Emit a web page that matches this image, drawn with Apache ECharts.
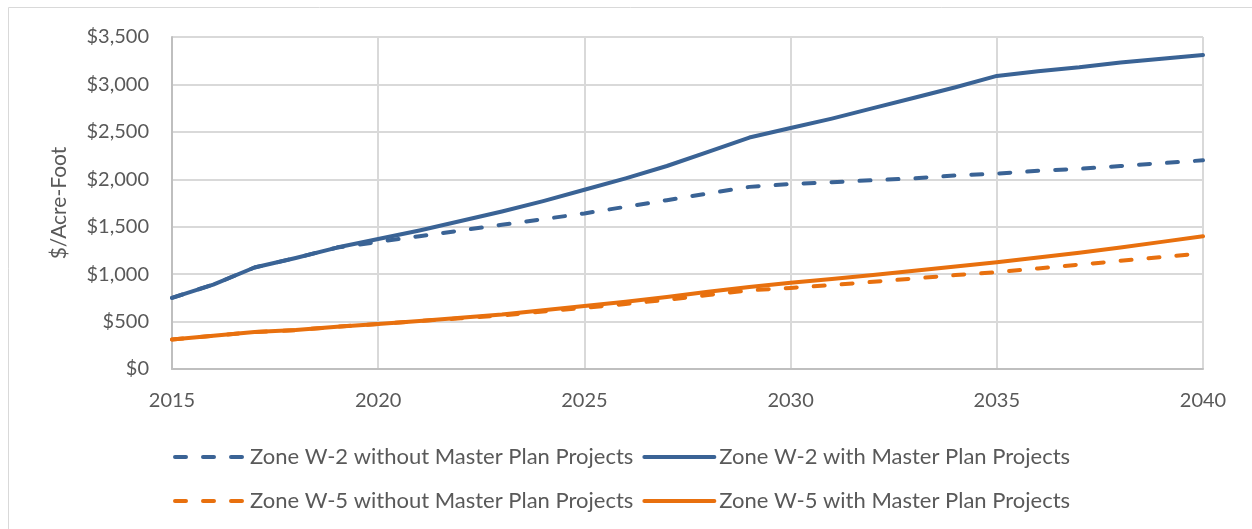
<!DOCTYPE html>
<html>
<head>
<meta charset="utf-8">
<script src="https://cdn.jsdelivr.net/npm/echarts@6/dist/echarts.min.js"></script>
<style>
  html, body { margin: 0; padding: 0; background: #fff; }
  #main { width: 1252px; height: 529px; }
</style>
</head>
<body>
<div id="main"></div>
<script>
// years on the x axis
var years = [2015, 2016, 2017, 2018, 2019, 2020, 2021, 2022, 2023, 2024, 2025, 2026, 2027,
  2028, 2029, 2030, 2031, 2032, 2033, 2034, 2035, 2036, 2037, 2038, 2039, 2040];

// $/acre-foot
var w2Without = [750, 890, 1070, 1170, 1280, 1340, 1400, 1460, 1520, 1580, 1640, 1710, 1780,
  1850, 1920, 1950, 1970, 1990, 2010, 2040, 2060, 2090, 2110, 2140, 2170, 2200];
var w2With = [750, 890, 1070, 1170, 1280, 1370, 1460, 1560, 1660, 1770, 1890, 2010, 2140,
  2290, 2440, 2540, 2640, 2750, 2860, 2970, 3090, 3140, 3180, 3230, 3270, 3310];
var w5Without = [310, 350, 390, 410, 445, 475, 505, 535, 565, 605, 645, 685, 730,
  780, 830, 855, 885, 920, 955, 990, 1020, 1060, 1100, 1140, 1180, 1220];
var w5With = [310, 350, 390, 410, 445, 475, 505, 540, 575, 620, 665, 710, 760,
  815, 865, 910, 950, 990, 1035, 1080, 1125, 1175, 1225, 1280, 1340, 1400];

var seriesNames = [
  "Zone W-2 without Master Plan Projects",
  "Zone W-2 with Master Plan Projects",
  "Zone W-5 without Master Plan Projects",
  "Zone W-5 with Master Plan Projects"
];

var blue = "#3a6395";
var orange = "#e8700e";
var font = "Lato";

function pairs(vals) {
  return years.map(function (y, i) { return [y, vals[i]]; });
}

function makeLine(name, vals, color, dashed) {
  return {
    name: name,
    type: "line",
    data: pairs(vals),
    symbol: "none",
    showSymbol: false,
    lineStyle: {
      color: color, width: 4,
      type: dashed ? [11, 17] : "solid",
      cap: "round", join: "round"
    },
    itemStyle: { color: color }
  };
}

var legendCommon = {
  itemWidth: 70, itemHeight: 14, itemGap: 9,
  itemStyle: { opacity: 0 },
  lineStyle: { width: 4 },
  textStyle: { color: "#595959", fontSize: 22, fontFamily: font }
};

var chart = echarts.init(document.getElementById("main"));
chart.setOption({
  animation: false,
  graphic: [{
    type: "rect",
    shape: { x: 8.5, y: 7.5, width: 1300, height: 600 },
    style: { fill: "none", stroke: "#d9d9d9", lineWidth: 1 }
  }],
  grid: { left: 172, right: 49, top: 37, bottom: 160 },
  legend: [
    Object.assign({ data: [seriesNames[0], seriesNames[1]], left: 168, top: 441 }, legendCommon),
    Object.assign({ data: [seriesNames[2], seriesNames[3]], left: 168, top: 485 }, legendCommon)
  ],
  xAxis: {
    type: "value",
    min: 2015, max: 2040, interval: 5,
    axisLine: { show: true, lineStyle: { color: "#bfbfbf", width: 2 } },
    axisTick: { show: false },
    axisLabel: {
      color: "#595959", fontSize: 20, fontFamily: font, margin: 22,
      formatter: function (v) { return String(v); }
    },
    splitLine: { show: true, lineStyle: { color: "#d9d9d9", width: 2 } }
  },
  yAxis: {
    type: "value",
    min: 0, max: 3500, interval: 500,
    name: "$/Acre-Foot",
    nameLocation: "middle",
    nameGap: 102,
    nameTextStyle: { color: "#595959", fontSize: 21, fontFamily: font },
    axisLine: { show: true, lineStyle: { color: "#bfbfbf", width: 2 } },
    axisTick: { show: false },
    axisLabel: {
      color: "#595959", fontSize: 20, fontFamily: font, margin: 23,
      formatter: function (v) { return "$" + v.toLocaleString("en-US"); }
    },
    splitLine: { show: true, lineStyle: { color: "#d9d9d9", width: 2 } }
  },
  series: [
    makeLine(seriesNames[0], w2Without, blue, true),
    makeLine(seriesNames[1], w2With, blue, false),
    makeLine(seriesNames[2], w5Without, orange, true),
    makeLine(seriesNames[3], w5With, orange, false)
  ]
});
</script>
</body>
</html>
